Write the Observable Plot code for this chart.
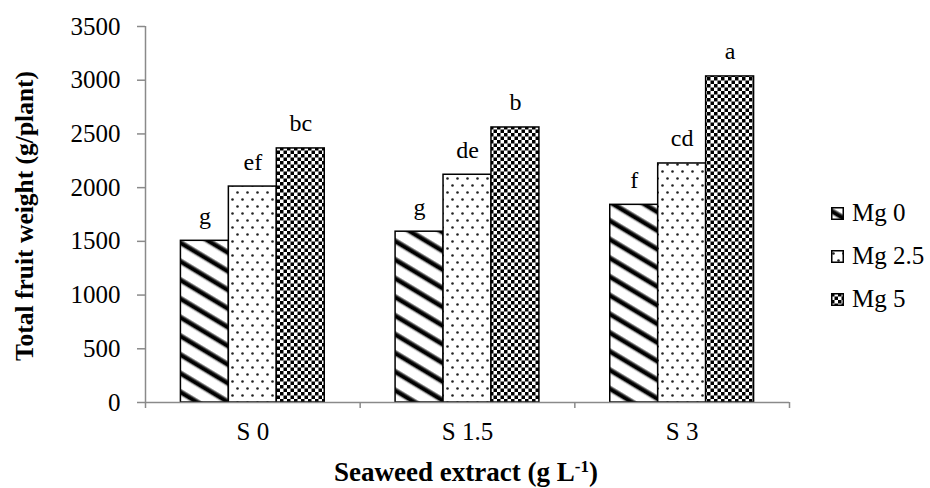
<!DOCTYPE html>
<html><head><meta charset="utf-8">
<script src="https://cdn.jsdelivr.net/npm/d3@7"></script>
<script src="https://cdn.jsdelivr.net/npm/@observablehq/plot@0.6"></script>
<style>
body{margin:0;background:#fff;}
#wrap{position:relative;width:930px;height:488px;font-family:'Liberation Serif','Times New Roman',serif;color:#000;overflow:hidden;}
.ytitle{position:absolute;left:25px;top:216px;transform:translate(-50%,-50%) rotate(-90deg);font-weight:bold;font-size:25.5px;white-space:nowrap;line-height:26px;}
.xtitle{position:absolute;left:466px;top:459px;transform:translateX(-50%);font-weight:bold;font-size:27px;white-space:nowrap;line-height:27px;}
.xtitle sup{font-size:17px;vertical-align:9px;line-height:0;}
.lrow{position:absolute;left:831px;display:flex;align-items:center;height:26px;font-size:25px;white-space:nowrap;line-height:26px;}
.lrow svg{margin-right:8px;display:block;}
</style></head>
<body>
<svg width="0" height="0" style="position:absolute">
<defs>
<pattern id="pMg0" patternUnits="userSpaceOnUse" width="16" height="16" patternTransform="rotate(31)">
 <rect width="16" height="16" fill="#fff"/>
 <rect y="0" width="16" height="1.2" fill="#888"/>
 <rect y="1.2" width="16" height="3.8" fill="#000"/>
 <rect y="5" width="16" height="1.2" fill="#888"/>
</pattern>
<pattern id="pMg25" patternUnits="userSpaceOnUse" width="10" height="14">
 <rect width="10" height="14" fill="#fff"/>
 <circle cx="2.5" cy="3.5" r="1.3" fill="#222"/>
 <circle cx="7.5" cy="10.5" r="1.3" fill="#222"/>
</pattern>
<pattern id="pMg5" patternUnits="userSpaceOnUse" width="7" height="7">
 <rect width="7" height="7" fill="#fff"/>
 <rect width="3.5" height="3.5" fill="#000"/>
 <rect x="3.5" y="3.5" width="3.5" height="3.5" fill="#000"/>
</pattern>
</defs></svg>
<div id="wrap"></div>
<script>
// ---- data ----
const categories = ["S 0", "S 1.5", "S 3"];
const series = ["Mg 0", "Mg 2.5", "Mg 5"];
const mg0 = [1505, 1590, 1840];
const mg25 = [2010, 2120, 2225];
const mg5 = [2365, 2560, 3035];
const letters0 = ["g", "g", "f"];
const letters25 = ["ef", "de", "cd"];
const letters5 = ["bc", "b", "a"];
const yTicks = [0, 500, 1000, 1500, 2000, 2500, 3000, 3500];
const yTitle = "Total fruit weight (g/plant)";
const xTitle = "Seaweed extract (g L";
const xTitleSup = "-1";

// ---- build table ----
const values = [mg0, mg25, mg5];
const letters = [letters0, letters25, letters5];
const fills = ["url(#pMg0)", "url(#pMg25)", "url(#pMg5)"];
const rows = [];
categories.forEach((c, i) => series.forEach((s, j) =>
  rows.push({cat: c, i, j, series: s, value: values[j][i], letter: letters[j][i]})));

const groupW = 0.67, barW = groupW / 3;
const xa = d => d.i + (1 - groupW) / 2 + d.j * barW;

const font = "'Liberation Serif','Times New Roman',serif";
const axisGray = "#8a8a8a";

const chart = Plot.plot({
  width: 930, height: 488,
  marginLeft: 145, marginRight: 141, marginTop: 26, marginBottom: 86,
  style: {fontFamily: font, fontSize: "25px", background: "#fff", color: "#000"},
  x: {domain: [0, categories.length]},
  y: {domain: [0, 3500]},
  marks: [
    ...series.map((s, j) => Plot.rect(rows.filter(d => d.j === j), {
      x1: xa, x2: d => xa(d) + barW, y1: () => 0, y2: "value",
      fill: fills[j], stroke: "#000", strokeWidth: 1.5
    })),
    Plot.text(rows, {x: d => xa(d) + barW / 2, y: "value", text: "letter",
      dy: -17, lineAnchor: "bottom", fontSize: 24, fill: "#000"}),
    Plot.ruleX([0], {y1: 0, y2: 3500, stroke: axisGray, strokeWidth: 1.5}),
    Plot.ruleY([0], {x1: 0, x2: categories.length, stroke: axisGray, strokeWidth: 1.5}),
    Plot.axisY({ticks: yTicks, tickSize: 8, tickPadding: 17, stroke: axisGray, strokeWidth: 1.5,
      tickFormat: d => String(d), fill: "#000", fontSize: 25, label: null}),
    Plot.axisX({ticks: d3.range(categories.length + 1), tickSize: 6, tickFormat: () => "",
      stroke: axisGray, strokeWidth: 1.5, label: null}),
    Plot.axisX({ticks: categories.map((c, i) => i + 0.5), tickSize: 0, tickPadding: 20,
      tickFormat: d => categories[Math.floor(d)], fill: "#000", fontSize: 25, label: null})
  ]
});

const wrap = document.getElementById("wrap");
wrap.appendChild(chart);

const yt = document.createElement("div");
yt.className = "ytitle"; yt.textContent = yTitle;
wrap.appendChild(yt);

const xt = document.createElement("div");
xt.className = "xtitle";
xt.appendChild(document.createTextNode(xTitle));
const sup = document.createElement("sup"); sup.textContent = xTitleSup;
xt.appendChild(sup);
xt.appendChild(document.createTextNode(")"));
wrap.appendChild(xt);

const legendTop = 200, legendStep = 43;
series.forEach((s, j) => {
  const row = document.createElement("div");
  row.className = "lrow";
  row.style.top = (legendTop + j * legendStep) + "px";
  row.innerHTML = `<svg width="13" height="13"><rect x="0.75" y="0.75" width="11.5" height="11.5" fill="${fills[j]}" stroke="#000" stroke-width="1.5"/></svg>`;
  const t = document.createElement("span"); t.textContent = s;
  row.appendChild(t);
  wrap.appendChild(row);
});
</script>
</body></html>
